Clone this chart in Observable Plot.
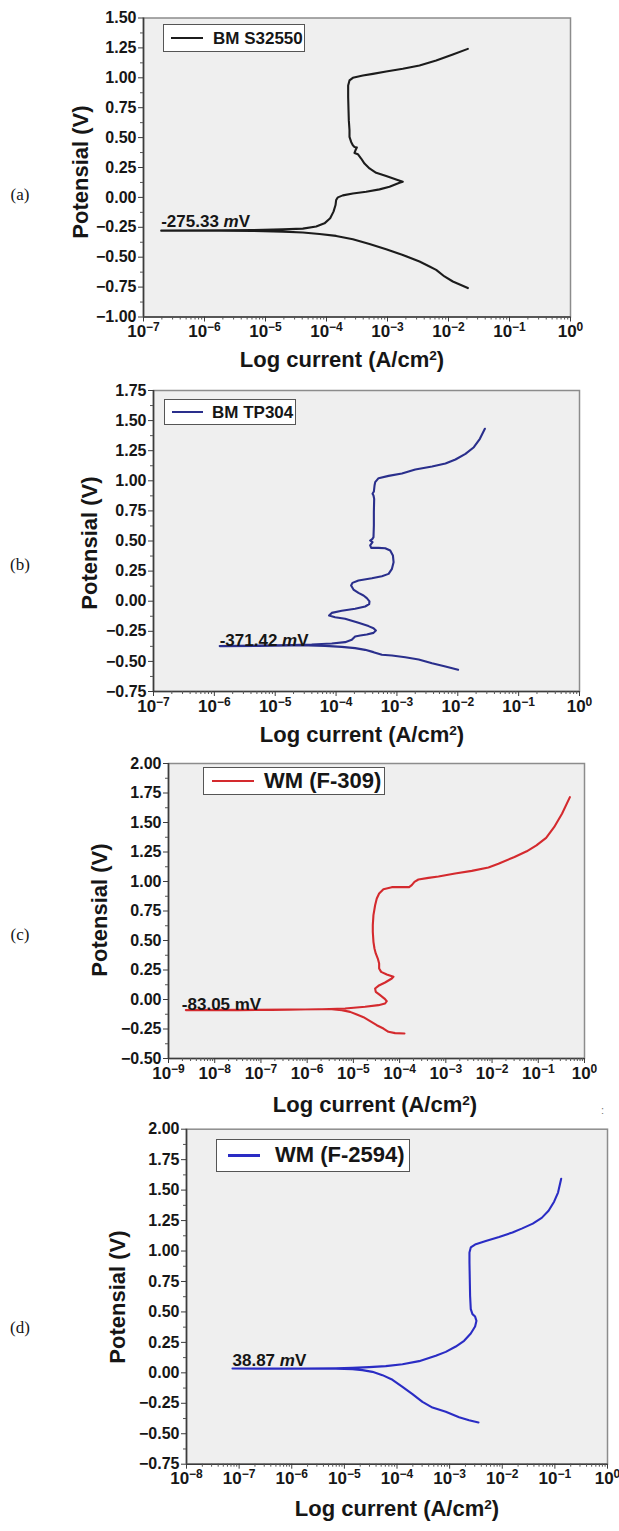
<!DOCTYPE html>
<html><head><meta charset="utf-8">
<script src="https://cdn.jsdelivr.net/npm/d3@7"></script>
<script src="https://cdn.jsdelivr.net/npm/@observablehq/plot@0.6"></script>
<style>
body{margin:0;background:#fff;}
#page{position:relative;width:619px;height:1531px;overflow:hidden;font-family:"Liberation Sans",Arial,sans-serif;color:#161616;}
.panel{position:absolute;left:0;}
.panel svg{display:block;max-width:none !important;}
.ttl{position:absolute;font-weight:bold;font-size:22px;white-space:nowrap;transform:translate(-50%,-50%);line-height:1;}
.ttl sup{font-size:0.62em;vertical-align:0.55em;line-height:0;}
.ytl{transform:translate(-50%,-50%) rotate(-90deg);}
.tag{position:absolute;font-family:"Liberation Serif","Times New Roman",serif;font-size:17px;transform:translate(-50%,-50%);}
.leg{position:absolute;background:#fff;border:1.5px solid #555;box-sizing:border-box;}
.leg .sw{position:absolute;height:2.5px;}
.leg .lt{position:absolute;font-weight:bold;white-space:nowrap;line-height:1;transform:translateY(-50%);}
</style>
</head><body><div id="page"></div>
<script>
// ---------- data ----------
const panelTags = ["(a)", "(b)", "(c)", "(d)"];
const seriesNames = ["BM S32550", "BM TP304", "WM (F-309)", "WM (F-2594)"];
const ecorrLabels = ["-275.33 mV", "-371.42 mV", "-83.05 mV", "38.87 mV"];
const xTickExponents = [
  [-7, -6, -5, -4, -3, -2, -1, 0],
  [-7, -6, -5, -4, -3, -2, -1, 0],
  [-9, -8, -7, -6, -5, -4, -3, -2, -1, 0],
  [-8, -7, -6, -5, -4, -3, -2, -1, 0]
];
const yTicksA = [-1.00, -0.75, -0.50, -0.25, 0.00, 0.25, 0.50, 0.75, 1.00, 1.25, 1.50];
const yTicksB = [-0.75, -0.50, -0.25, 0.00, 0.25, 0.50, 0.75, 1.00, 1.25, 1.50, 1.75];
const yTicksC = [-0.50, -0.25, 0.00, 0.25, 0.50, 0.75, 1.00, 1.25, 1.50, 1.75, 2.00];
const yTicksD = [-0.75, -0.50, -0.25, 0.00, 0.25, 0.50, 0.75, 1.00, 1.25, 1.50, 1.75, 2.00];

// log10 of current density (A/cm2) and potential (V), cathodic end -> Ecorr -> anodic end
const logIA = [-1.683,-1.929,-2.066,-2.202,-2.311,-2.475,-2.749,-3.022,-3.295,-3.568,-3.842,-4.115,-4.388,-4.716,-5.208,-5.754,-6.301,-6.710,
  -5.754,-5.208,-4.716,-4.388,-4.169,-4.033,-3.940,-3.885,-3.852,-3.842,-3.814,-3.732,-3.568,-3.350,-3.131,-2.967,-2.803,-2.749,-2.858,-3.022,
  -3.186,-3.295,-3.377,-3.432,-3.486,-3.541,-3.525,-3.503,-3.541,-3.568,-3.596,-3.623,-3.623,-3.634,-3.639,-3.645,-3.645,-3.623,-3.568,-3.404,
  -3.240,-3.022,-2.749,-2.475,-2.202,-1.929,-1.683];
const potA = [-0.758,-0.703,-0.661,-0.606,-0.578,-0.536,-0.481,-0.433,-0.389,-0.350,-0.322,-0.306,-0.294,-0.286,-0.281,-0.279,-0.278,-0.278,
  -0.276,-0.273,-0.267,-0.261,-0.244,-0.217,-0.175,-0.119,-0.064,-0.022,0.000,0.017,0.033,0.047,0.067,0.089,0.122,0.131,0.150,0.178,
  0.206,0.242,0.283,0.325,0.361,0.372,0.394,0.417,0.422,0.436,0.464,0.506,0.561,0.644,0.728,0.839,0.936,0.978,1.000,1.019,
  1.033,1.053,1.075,1.103,1.144,1.194,1.242];

const logIB = [-1.995,-2.203,-2.423,-2.643,-2.863,-3.082,-3.247,-3.385,-3.522,-3.687,-3.907,-4.181,-4.456,-4.731,-5.280,-5.912,
  -5.280,-4.731,-4.401,-4.071,-3.852,-3.742,-3.687,-3.604,-3.495,-3.385,-3.346,-3.385,-3.467,-3.632,-3.852,-4.016,-4.115,-4.071,-3.907,-3.687,
  -3.522,-3.456,-3.451,-3.495,-3.549,-3.632,-3.714,-3.753,-3.731,-3.632,-3.412,-3.247,-3.137,-3.082,-3.055,-3.066,-3.110,-3.192,-3.302,-3.423,
  -3.440,-3.401,-3.440,-3.401,-3.385,-3.379,-3.379,-3.374,-3.385,-3.401,-3.379,-3.368,-3.357,-3.302,-3.137,-2.918,-2.698,-2.423,-2.203,-2.038,
  -1.874,-1.736,-1.637,-1.555];
const potB = [-0.570,-0.542,-0.515,-0.484,-0.465,-0.451,-0.445,-0.423,-0.404,-0.390,-0.379,-0.371,-0.368,-0.368,-0.371,-0.373,
  -0.368,-0.365,-0.360,-0.351,-0.340,-0.321,-0.293,-0.285,-0.277,-0.263,-0.243,-0.224,-0.207,-0.180,-0.146,-0.133,-0.119,-0.097,-0.080,-0.063,
  -0.044,-0.025,-0.002,0.025,0.047,0.069,0.097,0.130,0.152,0.172,0.191,0.208,0.227,0.269,0.324,0.380,0.421,0.440,0.443,0.443,
  0.463,0.490,0.504,0.518,0.532,0.629,0.740,0.850,0.878,0.892,0.911,0.961,0.989,1.022,1.041,1.061,1.094,1.119,1.144,1.177,
  1.224,1.279,1.349,1.432];

const logIC = [-3.895,-4.097,-4.242,-4.350,-4.494,-4.638,-4.782,-4.926,-5.071,-5.251,-5.467,-5.756,-6.044,-6.765,-7.486,-8.207,-8.625,
  -7.486,-6.404,-5.683,-5.179,-4.746,-4.458,-4.314,-4.278,-4.328,-4.422,-4.516,-4.530,-4.458,-4.314,-4.169,-4.133,-4.278,-4.400,-4.443,-4.443,
  -4.472,-4.516,-4.544,-4.566,-4.580,-4.580,-4.566,-4.530,-4.494,-4.443,-4.350,-4.169,-3.953,-3.795,-3.737,-3.679,-3.593,-3.376,-3.160,-2.800,
  -2.439,-2.079,-1.862,-1.515,-1.250,-1.040,-0.830,-0.658,-0.487,-0.316];
const potC = [-0.288,-0.285,-0.274,-0.246,-0.218,-0.184,-0.150,-0.127,-0.105,-0.090,-0.082,-0.082,-0.085,-0.088,-0.090,-0.090,-0.090,
  -0.088,-0.085,-0.082,-0.076,-0.062,-0.048,-0.034,-0.014,0.008,0.037,0.065,0.093,0.116,0.144,0.178,0.192,0.212,0.234,0.263,0.305,
  0.347,0.390,0.432,0.489,0.573,0.630,0.715,0.799,0.856,0.898,0.935,0.952,0.952,0.952,0.969,0.997,1.017,1.031,1.042,1.068,
  1.090,1.119,1.150,1.208,1.256,1.306,1.370,1.460,1.574,1.715];

const logID = [-2.452,-2.630,-2.820,-3.073,-3.326,-3.516,-3.706,-3.896,-4.086,-4.276,-4.466,-4.656,-4.846,-5.163,-5.796,-6.429,-7.126,
  -6.429,-5.796,-5.163,-4.846,-4.529,-4.213,-3.896,-3.580,-3.263,-3.073,-2.883,-2.725,-2.598,-2.516,-2.490,-2.516,-2.566,-2.598,-2.611,-2.617,
  -2.623,-2.623,-2.598,-2.503,-2.313,-2.060,-1.806,-1.620,-1.420,-1.250,-1.120,-1.015,-0.940,-0.880];
const potD = [-0.408,-0.389,-0.364,-0.320,-0.285,-0.238,-0.175,-0.115,-0.057,-0.019,0.008,0.022,0.030,0.033,0.033,0.034,0.035,
  0.036,0.036,0.038,0.041,0.047,0.055,0.071,0.096,0.140,0.172,0.216,0.263,0.323,0.380,0.427,0.462,0.482,0.523,0.632,0.769,
  0.906,0.988,1.029,1.056,1.083,1.116,1.152,1.186,1.225,1.272,1.330,1.405,1.480,1.593];

// ---------- layout / style ----------
const layout = [
  {top: 0,    h: 350, ml: 143, mr: 49, mt: 17.5, mb: 33.5, color: "#1c1c1c", italicM: true,  dx: 0,  dy: -4,
   xt: [342, 360], yt: [81, 172], tag: [20, 195], leg: {l:163, t:24, w:142, h:28, sw:[7,39], tx:49, fs:17}},
  {top: 375,  h: 345, ml: 153, mr: 40, mt: 15, mb: 29, color: "#2a2f8c", italicM: true, dx: 0, dy: 0,
   xt: [362, 735], yt: [90, 543], tag: [20, 565], leg: {l:164, t:399, w:132, h:26, sw:[7,38], tx:47, fs:17}},
  {top: 750,  h: 345, ml: 168, mr: 35, mt: 13, mb: 37, color: "#d42a2e", italicM: false, dx: -4, dy: 0,
   xt: [375, 1105], yt: [100, 910], tag: [20, 935], leg: {l:203, t:767, w:182, h:28, sw:[8,50], tx:60, fs:22}},
  {top: 1115, h: 392, ml: 186, mr: 12, mt: 13.7, mb: 43.3, color: "#2a2cc4", italicM: true, dx: 0, dy: -3,
   xt: [397, 1509], yt: [118, 1297], tag: [20, 1328], leg: {l:216, t:1139, w:194, h:33, sw:[11,43], tx:58, fs:22}}
];
const logIs = [logIA, logIB, logIC, logID];
const pots = [potA, potB, potC, potD];
const yTicks = [yTicksA, yTicksB, yTicksC, yTicksD];

const supMap = {"-": "⁻", "0": "⁰", "1": "¹", "2": "²", "3": "³", "4": "⁴", "5": "⁵", "6": "⁶", "7": "⁷", "8": "⁸", "9": "⁹"};
const unSup = Object.fromEntries(Object.entries(supMap).map(([k, v]) => [v, k === "-" ? "−" : k]));
const powLabel = d => "10" + String(Math.round(Math.log10(d))).split("").map(c => supMap[c]).join("");
const fmtY = d => (d < 0 ? "−" : "") + Math.abs(d).toFixed(2);

const page = document.getElementById("page");
const ns = "http://www.w3.org/2000/svg";

layout.forEach((L, k) => {
  const rows = logIs[k].map((li, j) => ({i: 10 ** li, e: pots[k][j]}));
  const exps = xTickExponents[k];
  const majors = exps.map(e => 10 ** e);
  const minors = exps.slice(0, -1).flatMap(e => d3.range(2, 10).map(m => m * 10 ** e));
  const yt = yTicks[k];
  const step = yt[1] - yt[0];
  const yMinor = yt.slice(0, -1).map(v => v + step / 2);
  const left = d3.least(rows, r => r.i);
  const ann = [{i: left.i, e: left.e, text: ecorrLabels[k]}];
  const xDom = [majors[0], majors[majors.length - 1]];
  const yDom = [yt[0], yt[yt.length - 1]];

  const svg = Plot.plot({
    width: 619, height: L.h,
    marginLeft: L.ml, marginRight: L.mr, marginTop: L.mt, marginBottom: L.mb,
    x: {type: "log", domain: xDom},
    y: {domain: yDom},
    style: {fontFamily: "'Liberation Sans', Arial, sans-serif", fontSize: "16px", fontWeight: "bold", color: "#161616", background: "transparent", overflow: "visible", maxWidth: "none"},
    marks: [
      Plot.frame({fill: "#efefef"}),
      Plot.line(rows, {x: "i", y: "e", stroke: L.color, strokeWidth: 2.1, curve: "linear"}),
      Plot.text(ann, {x: "i", y: "e", text: "text", textAnchor: "start", lineAnchor: "bottom", dx: L.dx, dy: L.dy, fontSize: 17, fontWeight: "bold", fill: "#161616"}),
      Plot.frame({stroke: "#8c8c8c", strokeWidth: 1.5}),
      Plot.ruleX([xDom[0]], {stroke: "#3c3c3c", strokeWidth: 1.6}),
      Plot.ruleY([yDom[0]], {stroke: "#3c3c3c", strokeWidth: 1.6}),
      Plot.axisX(majors, {tickSize: 5, tickPadding: 3, tickFormat: powLabel, label: null, stroke: "#3c3c3c", fontSize: 17}),
      Plot.axisX(minors, {tickSize: 3, tickFormat: () => "", label: null, stroke: "#555"}),
      Plot.axisY(yt, {tickSize: 5, tickPadding: 2, tickFormat: fmtY, label: null, stroke: "#3c3c3c"}),
      Plot.axisY(yMinor, {tickSize: 3, tickFormat: () => "", label: null, stroke: "#555"})
    ]
  });
  svg.style.maxWidth = "none";

  // superscript exponents on the x tick labels
  svg.querySelectorAll('g[aria-label="x-axis tick label"] text').forEach(t => {
    const s = t.textContent;
    if (!s.startsWith("10")) return;
    const ex = s.slice(2).split("").map(c => unSup[c] || c).join("");
    t.textContent = "";
    const a = document.createElementNS(ns, "tspan"); a.textContent = "10";
    const b = document.createElementNS(ns, "tspan"); b.textContent = ex;
    b.setAttribute("dy", "-0.5em"); b.setAttribute("font-size", "12px");
    t.appendChild(a); t.appendChild(b);
  });
  // italic "m" in the Ecorr annotation
  if (L.italicM) {
    svg.querySelectorAll('g[aria-label="text"] text').forEach(t => {
      const s = t.textContent;
      const p = s.lastIndexOf("mV");
      if (p < 0) return;
      t.textContent = "";
      const a = document.createElementNS(ns, "tspan"); a.textContent = s.slice(0, p);
      const b = document.createElementNS(ns, "tspan"); b.textContent = "m"; b.setAttribute("font-style", "italic");
      const c = document.createElementNS(ns, "tspan"); c.textContent = "V";
      t.append(a, b, c);
    });
  }

  const wrap = document.createElement("div");
  wrap.className = "panel";
  wrap.style.top = L.top + "px";
  wrap.appendChild(svg);
  page.appendChild(wrap);

  const xt = document.createElement("div");
  xt.className = "ttl";
  xt.style.left = L.xt[0] + "px"; xt.style.top = L.xt[1] + "px";
  xt.innerHTML = "Log current (A/cm<sup>2</sup>)";
  page.appendChild(xt);

  const ytl = document.createElement("div");
  ytl.className = "ttl ytl";
  ytl.style.left = L.yt[0] + "px"; ytl.style.top = L.yt[1] + "px";
  ytl.textContent = "Potensial (V)";
  page.appendChild(ytl);

  const tg = document.createElement("div");
  tg.className = "tag";
  tg.style.left = L.tag[0] + "px"; tg.style.top = L.tag[1] + "px";
  tg.textContent = panelTags[k];
  page.appendChild(tg);

  const g = L.leg;
  const lg = document.createElement("div");
  lg.className = "leg";
  Object.assign(lg.style, {left: g.l + "px", top: g.t + "px", width: g.w + "px", height: g.h + "px"});
  const sw = document.createElement("div");
  sw.className = "sw";
  Object.assign(sw.style, {left: g.sw[0] + "px", width: (g.sw[1] - g.sw[0]) + "px", top: (g.h / 2 - 2.5) + "px", background: L.color});
  const lt = document.createElement("div");
  lt.className = "lt";
  Object.assign(lt.style, {left: g.tx + "px", top: (g.h / 2 - 1.5) + "px", fontSize: g.fs + "px"});
  lt.textContent = seriesNames[k];
  lg.append(sw, lt);
  page.appendChild(lg);
});

const dots = document.createElement("div");
Object.assign(dots.style, {position: "absolute", left: "601px", top: "1104px", fontSize: "11px", color: "#777"});
dots.textContent = ":";
page.appendChild(dots);
</script>
</body></html>
